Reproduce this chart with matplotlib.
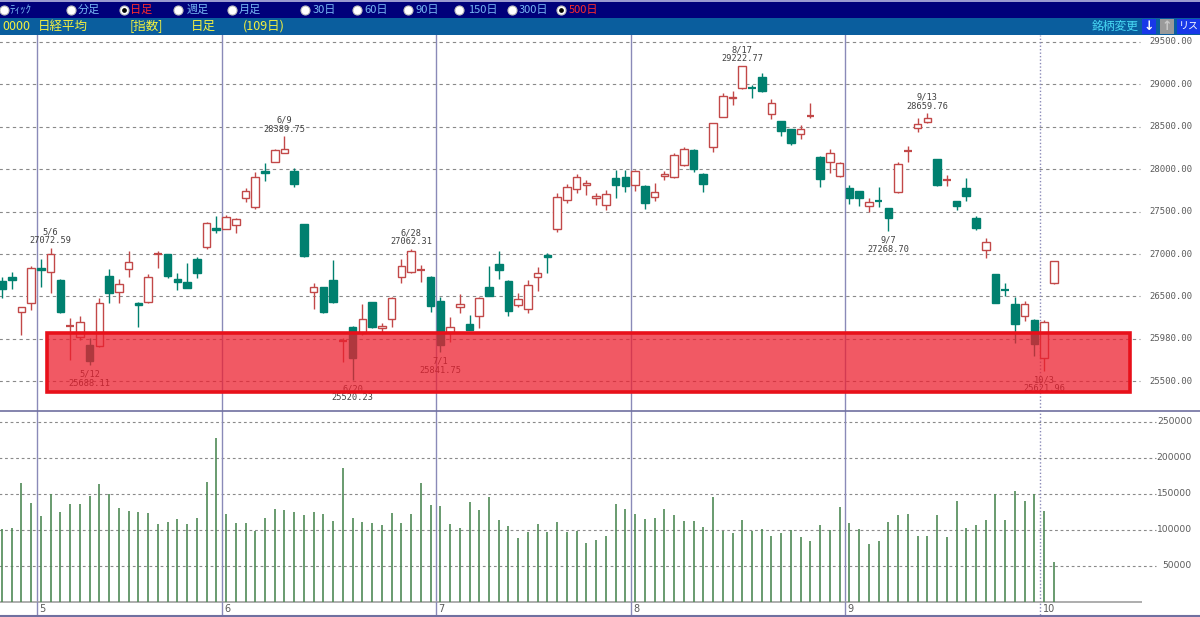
import numpy as np
import pandas as pd
import matplotlib
matplotlib.use("Agg")
from matplotlib import pyplot as plt
from matplotlib.patches import Rectangle
from matplotlib.lines import Line2D

# trading days (Tokyo), Apr 25 - Oct 4 2022
holidays = ["2022-04-29", "2022-05-03", "2022-05-04", "2022-05-05",
            "2022-07-18", "2022-08-11", "2022-09-19", "2022-09-23"]
dates = pd.bdate_range("2022-04-25", "2022-10-04")
dates = dates[~dates.isin(pd.to_datetime(holidays))]

opens = [26686, 26729, 26313, 26426, 26836, 26785, 26694, 26145, 26026, 25928,
         25916, 26741, 26549, 26820, 26426, 26438, 26990, 26997, 26702, 26674,
         26938, 27087, 27311, 27295, 27342, 27664, 27551, 27976, 28089, 28195,
         27983, 27354, 26549, 26608, 26694, 25970, 26143, 26069, 26431, 26131,
         26231, 26733, 26789, 26806, 26733, 26446, 26084, 26379, 26175, 26273,
         26608, 26879, 26686, 26399, 26348, 26726, 26988, 27295, 27637, 27767,
         27810, 27660, 27578, 27900, 27912, 27814, 27806, 27669, 27925, 27912,
         28050, 28227, 27944, 28259, 28619, 28836, 28954, 28960, 29084, 28651,
         28569, 28474, 28415, 28622, 28148, 28089, 27924, 27782, 27743, 27566,
         27637, 27539, 27728, 28210, 28483, 28553, 28121, 27868, 27625, 27775,
         27429, 27048, 26765, 26580, 26411, 26273, 26222, 25771, 26655]
highs = [26730, 26785, 26380, 26863, 26942, 27072.59, 26700, 26242, 26270, 26010,
         26478, 26820, 26702, 27039, 26430, 26761, 27039, 27000, 26780, 26891,
         26970, 27381, 27449, 27460, 27430, 27775, 27971, 28077, 28235, 28389.75,
         28011, 27360, 26655, 26615, 26930, 26007, 26150, 26411, 26440, 26183,
         26497, 26938, 27062.31, 26870, 26740, 26497, 26254, 26525, 26281, 26497,
         26859, 27039, 26690, 26537, 26694, 26844, 27010, 27720, 27830, 27945,
         27870, 27720, 27755, 27991, 27991, 27991, 27810, 27834, 27983, 28188,
         28266, 28238, 27950, 28549, 28895, 28922, 29222.77, 28993, 29138, 28824,
         28570, 28480, 28521, 28784, 28155, 28235, 28080, 27814, 27745, 27657,
         27794, 27545, 28082, 28274, 28600, 28659.76, 28125, 27932, 27630, 27893,
         27449, 27186, 26770, 26662, 26497, 26446, 26230, 26222, 26920]
lows = [26478, 26584, 26042, 26340, 26608, 26537, 26300, 25751, 25990, 25688.11,
        25900, 26426, 26426, 26733, 26143, 26426, 26839, 26721, 26576, 26600,
        26721, 27060, 27245, 27290, 27252, 27617, 27527, 27861, 28085, 28188,
        27794, 26960, 26352, 26310, 26425, 25731, 25520.23, 26040, 26130, 26066,
        26143, 26655, 26780, 26674, 26320, 25841.75, 25967, 26301, 26100, 26132,
        26505, 26702, 26273, 26379, 26308, 26568, 26780, 27260, 27600, 27720,
        27700, 27580, 27519, 27657, 27728, 27747, 27531, 27629, 27873, 27900,
        28042, 27971, 27728, 28207, 28615, 28757, 28940, 28843, 28907, 28589,
        28392, 28286, 28356, 28600, 27794, 27952, 27912, 27590, 27570, 27500,
        27558, 27268.70, 27716, 28082, 28443, 28541, 27802, 27802, 27519, 27629,
        27284, 26950, 26420, 26505, 25948, 26210, 25798, 25621.96, 26650]
closes = [26584, 26698, 26372, 26832, 26816, 26997, 26313, 26158, 26202, 25743,
          26419, 26537, 26647, 26903, 26399, 26726, 27000, 26741, 26670, 26603,
          26773, 27362, 27284, 27440, 27413, 27747, 27905, 27952, 28227, 28235,
          27822, 26980, 26615, 26320, 26431, 25980, 25771, 26231, 26143, 26155,
          26485, 26859, 27039, 26818, 26387, 25928, 26143, 26407, 26104, 26478,
          26509, 26812, 26332, 26466, 26635, 26773, 26961, 27673, 27790, 27908,
          27840, 27690, 27704, 27814, 27806, 27983, 27598, 27728, 27940, 28168,
          28238, 28003, 27826, 28541, 28863, 28855, 29221, 28950, 28926, 28784,
          28454, 28313, 28474, 28634, 27881, 28188, 28077, 27657, 27657, 27610,
          27625, 27421, 28062, 28220, 28530, 28600, 27814, 27878, 27566, 27688,
          27311, 27138, 26426, 26572, 26172, 26411, 25936, 26202, 26918]
volume = [101300, 102700, 164800, 137200,
          118800, 149600, 125200, 136300, 136300, 147800, 163900, 150600, 131200, 126100,
          125200, 124300, 108700, 111400, 115100, 107700, 116500, 167100, 228400,
          122000, 109100, 109600, 99000, 116000, 129800, 127100, 125200, 120600, 125200,
          122000, 112800, 186500, 116500, 111000, 109600, 107300, 124300, 110000, 122500,
          165700, 135400,
          134000, 108700, 102700, 139000, 127100, 145900, 114200, 105000, 88900, 96700,
          107700, 97100, 111000, 96700, 99000, 82000, 86600, 92100, 136300, 128900,
          122000, 115100, 116000, 128900, 121500, 112300, 112300, 103600, 145500, 99000,
          95800, 113300, 99000, 100800, 91200, 96200, 99900, 90200, 84700, 106400,
          99900, 132100,
          110000, 101700, 80100, 84700, 111000, 120200, 122500, 92100, 92100, 120200,
          89800, 140400, 102700, 106400, 113700, 150600, 114200, 154200, 140000, 150600,
          125700, 55700]

marks = [("2022-05-06", "high"), ("2022-05-12", "low"), ("2022-06-09", "high"),
         ("2022-06-20", "low"), ("2022-06-28", "high"), ("2022-07-01", "low"),
         ("2022-08-17", "high"), ("2022-09-07", "low"), ("2022-09-13", "high"),
         ("2022-10-03", "low")]

price_ticks = [29500, 29000, 28500, 28000, 27500, 27000, 26500, 26000, 25500]
price_labels = ["29500.00", "29000.00", "28500.00", "28000.00", "27500.00",
                "27000.00", "26500.00", "25980.00", "25500.00"]
vol_ticks = [250000, 200000, 150000, 100000, 50000]

RED = "#c24848"
TEAL = "#00806f"
GRID = "#8a8a8a"
MLINE = "#8a8ab8"
LBL = "#5a5a5a"
JP = ["Noto Sans CJK JP", "DejaVu Sans"]

W, H = 1200, 617
fig = plt.figure(figsize=(12, 6.17), dpi=100)
fig.patch.set_facecolor("white")


def fx(px):
    return px / W


def fy(py):
    return 1 - py / H


step = 9.74
x_right = (1138 - 2) / step
ax = fig.add_axes([0, fy(411), 1138 / W, (411 - 35) / H])
axv = fig.add_axes([0, fy(602), 1138 / W, (602 - 411) / H])
axd = fig.add_axes([0, fy(615), 1138 / W, 13 / H])
for a in (ax, axv, axd):
    a.set_xlim(-2 / step, x_right)
    a.set_axis_off()
ax.set_ylim(29500 - 369 * 11.79, 29500 + 7 * 11.79)
axv.set_ylim(0, 191 / 36 * 50000)
axd.set_ylim(0, 1)

xs = np.arange(len(dates))

# grid lines
for t, lab in zip(price_ticks, price_labels):
    ax.hlines(t, -1, (1140 - 2) / step, colors=GRID, lw=0.8,
              linestyles=(0, (3, 3)), clip_on=False, zorder=1)
    ax.text(1192 / 1138, (t - ax.get_ylim()[0]) / (ax.get_ylim()[1] - ax.get_ylim()[0]),
            lab, transform=ax.transAxes, ha="right", va="center",
            family="DejaVu Sans Mono", fontsize=6.4, color=LBL, clip_on=False)
for t in vol_ticks:
    axv.hlines(t, -1, (1156 - 2) / step, colors=GRID, lw=0.8,
               linestyles=(0, (2.5, 2.5)), clip_on=False, zorder=1)
    axv.text(1192 / 1138, t / axv.get_ylim()[1], f"{t}", transform=axv.transAxes,
             ha="right", va="center", fontsize=6.6, color=LBL, clip_on=False)
axv.hlines(0, -1, (1142 - 2) / step, colors="#a0a0a0", lw=1.2, clip_on=False)

# month separators
month_starts = [i for i in range(1, len(dates)) if dates[i].month != dates[i - 1].month]
for k, i in enumerate(month_starts):
    xm = i - 0.42
    ls = (0, (1, 1.5)) if k == len(month_starts) - 1 else "-"
    for a in (ax, axv, axd):
        a.axvline(xm, color=MLINE, lw=1, ls=ls, zorder=1)
    axd.text(xm + 0.25, 0.45, str(dates[i].month), ha="left", va="center",
             fontsize=7, color=LBL)

# candles
for i in xs:
    o, h, l, c = opens[i], highs[i], lows[i], closes[i]
    up = c >= o
    col = RED if up else TEAL
    ax.vlines(i, l, h, colors=col, lw=1, zorder=2)
    lo, hi = min(o, c), max(o, c)
    if hi - lo < 15:
        ax.hlines((o + c) / 2, i - 0.4, i + 0.4, colors=col, lw=1.6, zorder=3)
    else:
        ax.add_patch(Rectangle((i - 0.39, lo), 0.78, hi - lo, lw=1,
                               facecolor="white" if up else col, edgecolor=col, zorder=3))

# high / low marks
for d, kind in marks:
    i = dates.get_loc(pd.Timestamp(d))
    lab = f"{dates[i].month}/{dates[i].day}"
    if kind == "high":
        v, offs = highs[i], (16, 7)
    else:
        v, offs = lows[i], (-9, -18)
    for txt, dy in zip((lab, f"{v:.2f}"), offs):
        ax.annotate(txt, (i, v), xytext=(0, dy), textcoords="offset pixels",
                    ha="center", va="center", family="DejaVu Sans Mono",
                    fontsize=6.2, color="#404040", zorder=4)

# volume
axv.vlines(xs, 0, volume, colors="#4f8a56", lw=1.2, zorder=2)

# highlighted support band
ax.add_patch(Rectangle((4.6, 25373), 111.2, 696, facecolor=(0.93, 0.12, 0.18, 0.74),
                       edgecolor="#e8101a", lw=2.6, zorder=5))

# frame lines
fig.add_artist(Line2D([0, 1], [fy(411), fy(411)], color="#7070a0", lw=1.2))
fig.add_artist(Line2D([0, 1], [fy(616), fy(616)], color="#7070a0", lw=1.5))

# header bars
fig.add_artist(Rectangle((0, fy(18)), 1, 18 / H, transform=fig.transFigure,
                         facecolor="#00007a", edgecolor="none"))
fig.add_artist(Rectangle((0, fy(2)), 1, 2 / H, transform=fig.transFigure,
                         facecolor="#9a9ad0", edgecolor="none"))
fig.add_artist(Rectangle((0, fy(35)), 1, 17 / H, transform=fig.transFigure,
                         facecolor="#0a5e9e", edgecolor="none"))

periods = [("ﾃｨｯｸ", 4, 9), ("分足", 71, 78), ("日足", 124, 130), ("週足", 178, 187),
           ("月足", 232, 239), ("30日", 305, 313), ("60日", 357, 364), ("90日", 408, 416),
           ("150日", 459, 468), ("300日", 512, 519), ("500日", 561, 569)]
selected = {"日足", "500日"}
for name, cx, tx in periods:
    fig.add_artist(Line2D([fx(cx)], [fy(9.5)], marker="o", ms=6.5, mfc="white",
                          mec="#c0c0c0", mew=0.8))
    if name in selected:
        fig.add_artist(Line2D([fx(cx)], [fy(9.5)], marker="o", ms=2.4, mfc="black",
                              mec="black"))
    fig.text(fx(tx), fy(9.5), name, ha="left", va="center", family=JP, fontsize=8,
             color="#ff2a2a" if name in selected else "#78b8f4")

for txt, tx in [("0000", 2), ("日経平均", 38), ("[指数]", 130), ("日足", 191), ("(109日)", 243)]:
    fig.text(fx(tx), fy(26.5), txt, ha="left", va="center", family=JP, fontsize=9,
             color="#f4f040")

fig.text(fx(1092), fy(26.5), "銘柄変更", ha="left", va="center", family=JP,
         fontsize=8.5, color="#48d8f4")
fig.add_artist(Rectangle((fx(1142), fy(34)), 14 / W, 15 / H, transform=fig.transFigure,
                         facecolor="#1838e8", edgecolor="none"))
fig.text(fx(1149), fy(26.5), "↓", ha="center", va="center", fontsize=9,
         weight="bold", color="white")
fig.add_artist(Rectangle((fx(1160), fy(34)), 14 / W, 15 / H, transform=fig.transFigure,
                         facecolor="#9a9a9a", edgecolor="none"))
fig.text(fx(1167), fy(26.5), "↑", ha="center", va="center", fontsize=9,
         weight="bold", color="#c8c8c8")
fig.add_artist(Rectangle((fx(1177), fy(34)), 23 / W, 15 / H, transform=fig.transFigure,
                         facecolor="#1838e8", edgecolor="none"))
fig.text(fx(1179), fy(26.5), "リス", ha="left", va="center", family=JP, fontsize=7.2,
         color="white")

fig.savefig("out.png", dpi=100)
